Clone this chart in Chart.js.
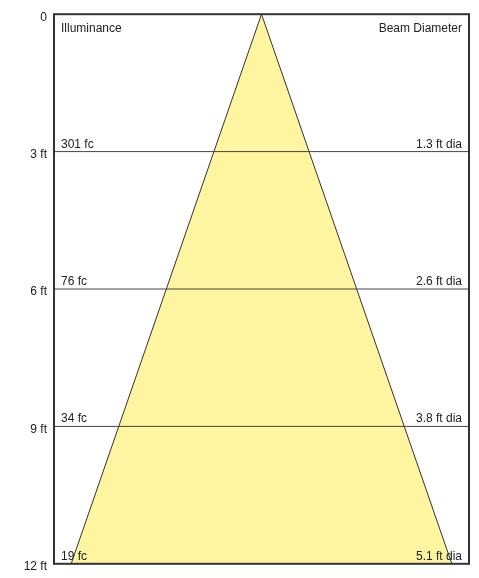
<!DOCTYPE html>
<html>
<head>
<meta charset="utf-8">
<script src="https://cdn.jsdelivr.net/npm/chart.js@4"></script>
<style>
  html, body { margin: 0; padding: 0; background: #fff; }
  #wrap { width: 479px; height: 578px; }
</style>
</head>
<body>
<div id="wrap"><canvas id="beam" width="479" height="578"></canvas></div>
<script>
// --- data ---
const depths = [0, 3, 6, 9, 12];
const tickLabels = ['0', '3 ft', '6 ft', '9 ft', '12 ft'];
const footcandles = [301, 76, 34, 19];     // at 3, 6, 9, 12 ft
const diameters = [1.3, 2.6, 3.8, 5.1];     // at 3, 6, 9, 12 ft
const headerLeft = 'Illuminance';
const headerRight = 'Beam Diameter';

const X_RANGE = 2.78;
const FONT = '12px "Liberation Sans", Arial, sans-serif';

// beam cone from apex to widest diameter
const maxDepth = depths[depths.length - 1];
const half = diameters[diameters.length - 1] / 2;
const cone = [
  { x: 0, y: 0 },
  { x: -half, y: maxDepth },
  { x: half, y: maxDepth },
  { x: 0, y: 0 }
];

const datasets = [{
  data: cone,
  order: 1,
  showLine: true,
  fill: 'shape',
  backgroundColor: '#fff5a0',
  borderColor: '#333',
  borderWidth: 1,
  pointRadius: 0,
  tension: 0
}];

// horizontal marker lines at intermediate depths (drawn over the cone)
depths.slice(1, -1).forEach(d => {
  datasets.push({
    data: [{ x: -X_RANGE, y: d }, { x: X_RANGE, y: d }],
    order: 0,
    showLine: true,
    fill: false,
    borderColor: '#444',
    borderWidth: 1,
    pointRadius: 0
  });
});

const labelPlugin = {
  id: 'beamLabels',
  afterDatasetsDraw(chart) {
    const { ctx, chartArea: a, scales: { y } } = chart;
    ctx.save();
    // frame
    ctx.strokeStyle = '#333';
    ctx.lineWidth = 2;
    ctx.strokeRect(a.left, a.top, a.right - a.left, a.bottom - a.top);

    ctx.font = FONT;
    ctx.fillStyle = '#222';
    ctx.textBaseline = 'alphabetic';
    ctx.textAlign = 'left';
    ctx.fillText(headerLeft, a.left + 7, a.top + 18);
    ctx.textAlign = 'right';
    ctx.fillText(headerRight, a.right - 7, a.top + 18);

    depths.slice(1).forEach((d, i) => {
      const py = y.getPixelForValue(d) - 4;
      ctx.textAlign = 'left';
      ctx.fillText(footcandles[i] + ' fc', a.left + 7, py);
      ctx.textAlign = 'right';
      ctx.fillText(diameters[i].toFixed(1) + ' ft dia', a.right - 7, py);
    });
    ctx.restore();
  }
};

new Chart(document.getElementById('beam'), {
  type: 'scatter',
  data: { datasets },
  options: {
    responsive: false,
    animation: false,
    layout: { padding: { top: 13, right: 10, bottom: 11, left: 0 } },
    plugins: { legend: { display: false }, tooltip: { enabled: false } },
    scales: {
      x: { type: 'linear', min: -X_RANGE, max: X_RANGE, display: false },
      y: {
        type: 'linear',
        reverse: true,
        min: 0,
        max: maxDepth,
        afterBuildTicks: s => { s.ticks = depths.map(v => ({ value: v })); },
        afterFit: s => { s.width = 54; },
        border: { display: false },
        grid: { display: false, drawTicks: false },
        ticks: {
          color: '#222',
          font: { family: '"Liberation Sans", Arial, sans-serif', size: 12 },
          padding: 7,
          labelOffset: 3,
          callback: (v) => tickLabels[depths.indexOf(v)]
        }
      }
    }
  },
  plugins: [labelPlugin]
});
</script>
</body>
</html>
